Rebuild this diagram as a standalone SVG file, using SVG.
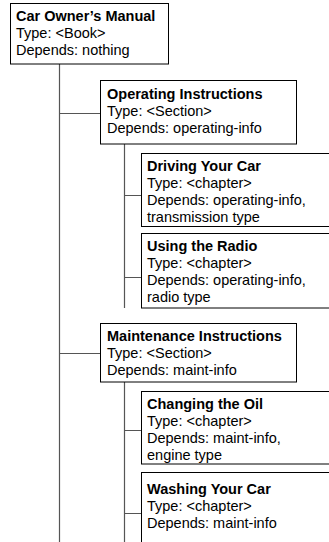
<svg xmlns="http://www.w3.org/2000/svg" width="329" height="542" viewBox="0 0 329 542">
<style>
.box{fill:#fff;stroke:#000;stroke-width:1}
.t{font-family:"Liberation Sans",Arial,sans-serif;font-size:14.5px;fill:#000}
.b{font-weight:bold}
.c{stroke:#555;stroke-width:1.2;fill:none}
</style>
<rect width="329" height="542" fill="#fff"/>
<g id="connectors">
<path class="c" d="M59.5 64V542M59.5 113.5H100.5M59.5 353.5H100.5"/>
<path class="c" d="M124.5 144V308M124.5 195.5H141.5M124.5 277.5H141.5"/>
<path class="c" d="M124.5 382V542M124.5 430.5H141.5M124.5 513.5H141.5"/>
</g>
<g id="root">
<rect class="box" x="10.5" y="3.5" width="158" height="60.5"/>
<text class="t b" x="16" y="21">Car Owner’s Manual</text>
<text class="t" x="16" y="38">Type: &lt;Book&gt;</text>
<text class="t" x="16" y="55">Depends: nothing</text>
</g>
<g id="operating">
<rect class="box" x="100.5" y="80.5" width="196" height="63.5"/>
<text class="t b" x="107" y="99">Operating Instructions</text>
<text class="t" x="107" y="116">Type: &lt;Section&gt;</text>
<text class="t" x="107" y="133">Depends: operating-info</text>
</g>
<g id="driving">
<rect class="box" x="141.5" y="153.5" width="200" height="73"/>
<text class="t b" x="147" y="171">Driving Your Car</text>
<text class="t" x="147" y="188">Type: &lt;chapter&gt;</text>
<text class="t" x="147" y="205">Depends: operating-info,</text>
<text class="t" x="147" y="222">transmission type</text>
</g>
<g id="radio">
<rect class="box" x="141.5" y="233.5" width="200" height="74.5"/>
<text class="t b" x="147" y="251">Using the Radio</text>
<text class="t" x="147" y="268">Type: &lt;chapter&gt;</text>
<text class="t" x="147" y="285">Depends: operating-info,</text>
<text class="t" x="147" y="302">radio type</text>
</g>
<g id="maintenance">
<rect class="box" x="100.5" y="323.5" width="196" height="58.5"/>
<text class="t b" x="107" y="341">Maintenance Instructions</text>
<text class="t" x="107" y="358">Type: &lt;Section&gt;</text>
<text class="t" x="107" y="375">Depends: maint-info</text>
</g>
<g id="oil">
<rect class="box" x="141.5" y="391.5" width="200" height="72.5"/>
<text class="t b" x="147" y="409">Changing the Oil</text>
<text class="t" x="147" y="426">Type: &lt;chapter&gt;</text>
<text class="t" x="147" y="443">Depends: maint-info,</text>
<text class="t" x="147" y="460">engine type</text>
</g>
<g id="washing">
<rect class="box" x="141.5" y="472.5" width="200" height="100"/>
<text class="t b" x="147" y="494">Washing Your Car</text>
<text class="t" x="147" y="511">Type: &lt;chapter&gt;</text>
<text class="t" x="147" y="528">Depends: maint-info</text>
</g>
</svg>
